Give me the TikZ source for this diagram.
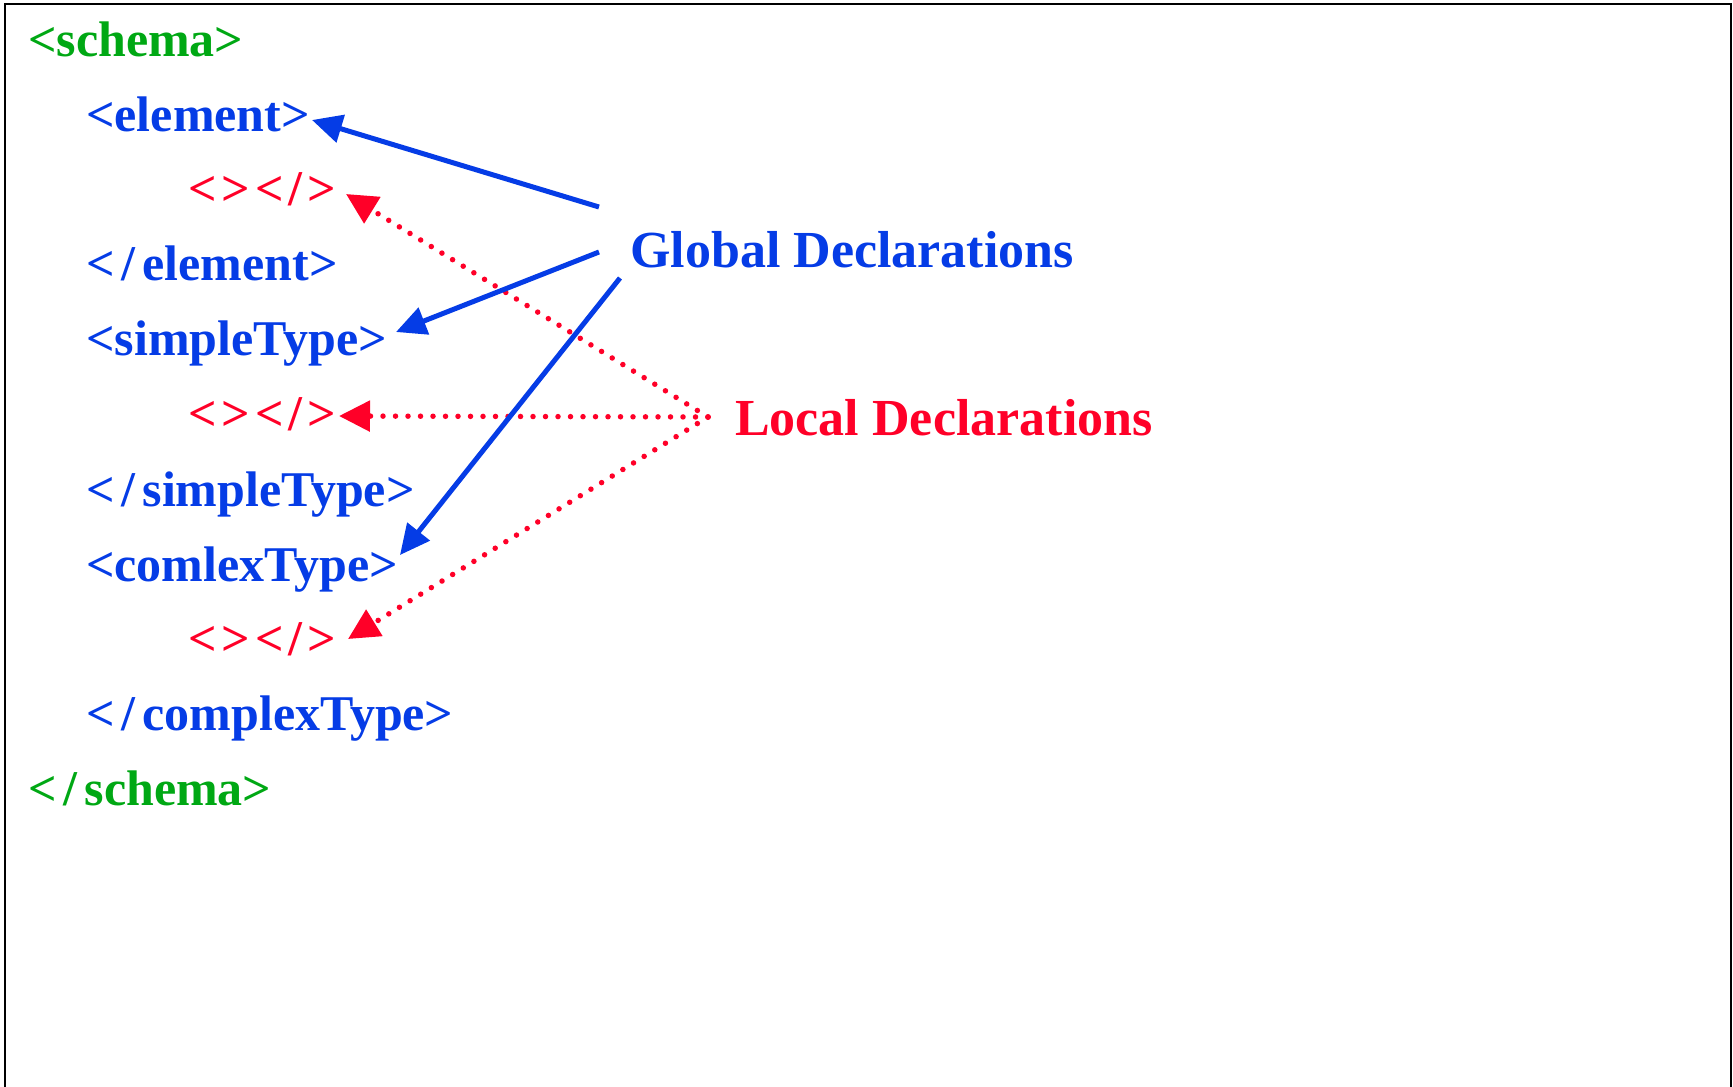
\documentclass[tikz,border=0pt]{standalone}
\usepackage{fontspec}
\setmainfont{Liberation Serif}
\usetikzlibrary{arrows.meta}
\definecolor{tagblue}{RGB}{5,60,230}
\definecolor{tagred}{RGB}{255,0,40}
\definecolor{taggreen}{RGB}{0,168,20}
\newcommand{\cls}{<\kern7pt/\kern7pt}
\newcommand{\emptypair}{<\kern5pt>\kern5pt<\kern5pt/\kern5pt>}
\begin{document}
\begin{tikzpicture}[x=1pt,y=-1pt,
  tag/.style={anchor=base west, inner sep=0pt, font=\fontsize{50}{60}\selectfont\bfseries},
  root/.style={tag, text=taggreen},
  glob/.style={tag, text=tagblue},
  loc/.style={tag, text=tagred},
  decl/.style={anchor=base west, inner sep=0pt, font=\fontsize{52}{62}\selectfont\bfseries},
  garrow/.style={draw=tagblue, line width=5pt, -{Triangle[length=30pt,width=28pt]}},
  larrow/.style={draw=tagred, line width=5.5pt, line cap=round, dash pattern=on 0pt off 12.5pt, -{Triangle[length=31pt,width=30pt]}}
]
\useasboundingbox (0,0) rectangle (1733,1087);
\fill[white] (0,0) rectangle (1733,1087);
\draw[line width=2.2pt] (5,1090) -- (5,4) -- (1731,4) -- (1731,1090);

\node[root] (schemaopen) at (28,56) {<schema>};
\node[glob] (elopen) at (86,131) {<element>};
\node[loc] (loc1) at (188,205) {\emptypair};
\node[glob] (elclose) at (86,280) {\cls element>};
\node[glob] (stopen) at (86,355) {<simpleType>};
\node[loc] (loc2) at (188,430) {\emptypair};
\node[glob] (stclose) at (86,506) {\cls simpleType>};
\node[glob] (ctopen) at (86,581) {<comlexType>};
\node[loc] (loc3) at (188,655) {\emptypair};
\node[glob] (ctclose) at (86,730) {\cls complexType>};
\node[root] (schemaclose) at (28,805) {\cls schema>};

\node[decl, text=tagblue] (global) at (630,267) {Global Declarations};
\node[decl, text=tagred] (local) at (735,435) {Local Declarations};

\coordinate (g1) at (599,207);
\coordinate (g2) at (599,252);
\coordinate (g3) at (620,278);
\coordinate (t1) at (312,120);
\coordinate (t2) at (396,332);
\coordinate (t3) at (400,555);
\coordinate (lsrc) at (708,417);
\coordinate (r1) at (346,194);
\coordinate (r2) at (339,416);
\coordinate (r3) at (348,639);

\draw[larrow] (lsrc) -- (r1);
\draw[larrow] (lsrc) -- (r2);
\draw[larrow] (lsrc) -- (r3);

\draw[garrow] (g1) -- (t1);
\draw[garrow] (g2) -- (t2);
\draw[garrow] (g3) -- (t3);
\end{tikzpicture}
\end{document}
